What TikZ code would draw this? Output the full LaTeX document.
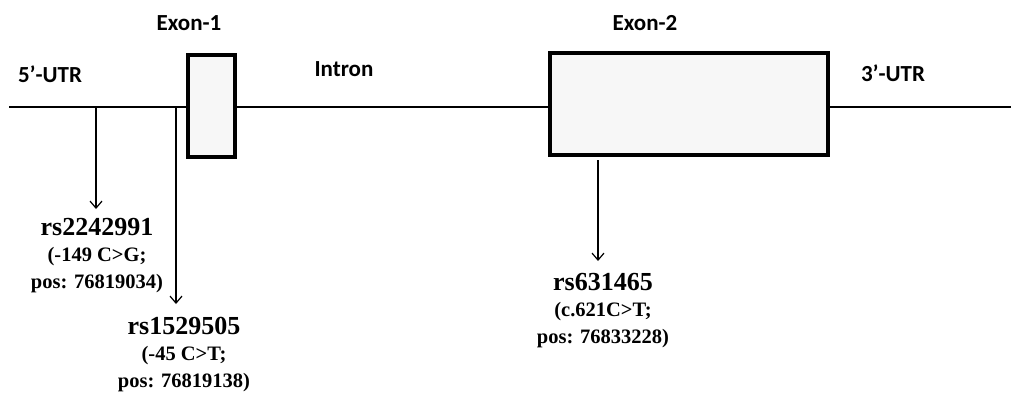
\documentclass[tikz,border=0pt]{standalone}
\usepackage{fontspec}
\setmainfont{Liberation Serif}
\newfontfamily\labelfont{Carlito}
\usetikzlibrary{arrows.meta,positioning}

\tikzset{
  exonbox/.style={draw=black, line width=3.5pt, fill=gray!6, inner sep=0pt},
  regionlabel/.style={font=\labelfont\bfseries\fontsize{23}{25}\selectfont, inner sep=0pt},
  snplabel/.style={align=center, inner sep=0pt, font=\bfseries\fontsize{20.5}{26.5}\selectfont},
  snparrow/.style={-{Straight Barb[length=7pt,width=12pt,line width=1.2pt]}, line width=1.2pt}
}
\newcommand{\snpname}[1]{{\fontsize{26}{27}\selectfont #1}}

\begin{document}
\begin{tikzpicture}[x=1pt,y=-1pt]
				\useasboundingbox (0,0) rectangle (1011,394);

				% Gene backbone
				\coordinate (start) at (9,107);
				\coordinate (stop) at (1011,107);
				\draw[line width=2.2pt] (start) -- (stop);

				% Exon boxes
				\node[exonbox, minimum width=47pt, minimum height=102pt] (exonA) at (211.5,106) {};
				\node[exonbox, minimum width=278pt, minimum height=102pt] (exonB) at (689,104) {};

				% Region labels
				\node[regionlabel] (utrA) at (50,74) {5’-UTR};
				\node[regionlabel] (exonAlab) at (189,23) {Exon-1};
				\node[regionlabel] (intron) at (344,69) {Intron};
				\node[regionlabel] (exonBlab) at (645,23) {Exon-2};
				\node[regionlabel] (utrB) at (893,73) {3’-UTR};

				% SNP positions
				\coordinate (pA) at (96,107);
				\coordinate (pB) at (176,107);
				\coordinate (pC) at (598,160);

				% SNP labels
				\node[snplabel, anchor=north] (snpA) at (97,218) {\snpname{rs2242991}\\(-149 C>G;\\pos: 76819034)};
				\node[snplabel, anchor=north] (snpB) at (184,317) {\snpname{rs1529505}\\(-45 C>T;\\pos: 76819138)};
				\node[snplabel, anchor=north] (snpC) at (603,273) {\snpname{rs631465}\\(c.621C>T;\\pos: 76833228)};

				% Arrows to SNP labels
				\draw[snparrow] (pA) -- (pA |- 0,209);
				\draw[snparrow] (pB) -- (pB |- 0,304);
				\draw[snparrow] (pC) -- (pC |- 0,261);
			\end{tikzpicture}
\end{document}
